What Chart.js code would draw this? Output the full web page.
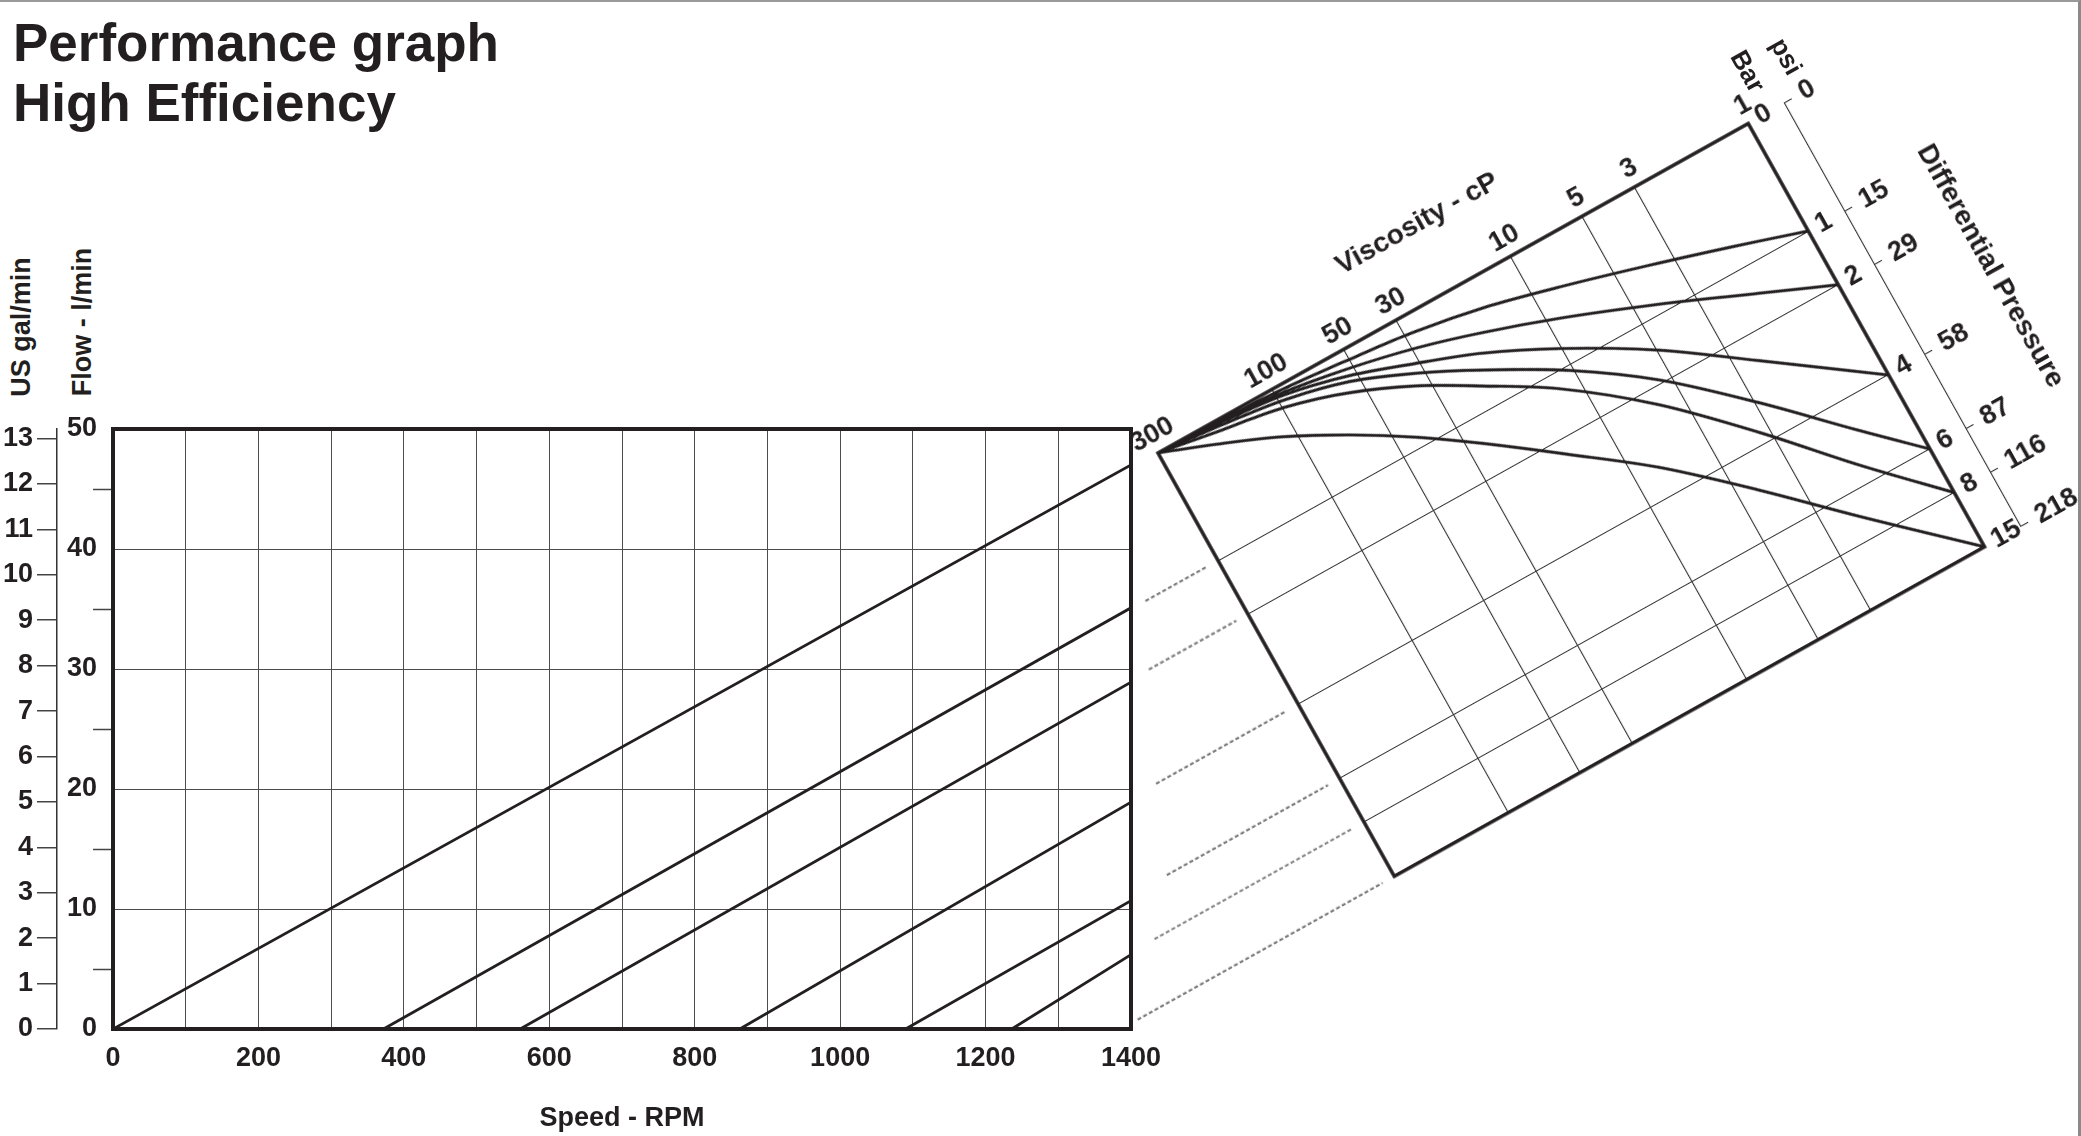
<!DOCTYPE html>
<html>
<head>
<meta charset="utf-8">
<title>Performance graph - High Efficiency</title>
<script src="https://cdn.jsdelivr.net/npm/chart.js@4.4.1/dist/chart.umd.min.js"></script>
<style>
  body { margin: 0; background: #fff; }
  #page { position: relative; width: 2081px; height: 1136px; overflow: hidden;
          font-family: 'Liberation Sans', Arial, sans-serif; color: #231f20; }
  #edge { position: absolute; left: 0; top: 0; width: 2081px; height: 1136px; box-sizing: border-box;
          border-top: 2px solid #9a9a9a; border-right: 3px solid #8a8a8a; pointer-events: none; }
  h1 { position: absolute; left: 13px; top: 13px; margin: 0; font-size: 53px; line-height: 60px; font-weight: bold; }
  .vlabel { position: absolute; font-size: 27px; font-weight: bold; white-space: nowrap;
            transform: translate(-50%, -50%) rotate(-90deg); }
  #mainChart { position: absolute; left: 0; top: 0; }
  #nomo { position: absolute; width: 1160px; height: 602px; }
  #nomo canvas { position: absolute; left: 0; top: 0; }
  .nlabel { position: absolute; font-size: 26px; font-weight: bold; white-space: nowrap;
            transform: translate(-50%, -50%) rotate(90deg); }
</style>
</head>
<body>
<div id="page">
  <h1>Performance graph<br>High Efficiency</h1>
  <div class="vlabel" style="left:21px;top:327px">US gal/min</div>
  <div class="vlabel" style="left:82px;top:322px">Flow - l/min</div>
  <canvas id="mainChart" width="2081" height="1136"></canvas>
  <div id="nomo">
    <canvas id="nomoChart" width="1160" height="602"></canvas>
    <div class="nlabel" style="left:1011px;top:45px">Bar</div>
    <div class="nlabel" style="left:1052px;top:51px">psi</div>
  </div>
  <div id="edge"></div>
</div>
<script>
const INK = '#231f20';
Chart.defaults.font.family = "'Liberation Sans', Arial, sans-serif";
Chart.defaults.font.weight = 'bold';
Chart.defaults.color = INK;

// --- Flow vs speed (left graph) ---
const MAX_RPM = 1400;
const LPM_PER_GAL = 3.785;
const lineStartRpm = [0, 372, 560, 862, 1090, 1236];   // speed where flow starts
const lineEndFlow = [47.0, 35.1, 28.9, 18.9, 10.7, 6.2]; // l/min at 1400 rpm
const galTicks = [0, 1, 2, 3, 4, 5, 6, 7, 8, 9, 10, 11, 12, 13];

// --- Viscosity / pressure nomogram (right graph) ---
const viscTicks = [300, 100, 50, 30, 10, 5, 3, 1];
const pressurePos = [0, 0.254, 0.381, 0.594, 0.769, 0.872, 1];
const barLabels = ['0', '1', '2', '4', '6', '8', '15'];
const psiLabels = ['0', '15', '29', '58', '87', '116', '218'];

// curves: viscosity (cP) and position on the pressure axis
const curveVisc1 = [300, 169.6, 95.9, 49.5, 27.2, 14.9, 7.84, 3.41, 1.49, 1];
const curvePos1 = [0, 0.004, 0.010, 0.024, 0.040, 0.066, 0.105, 0.162, 0.223, 0.254];
const curveVisc2 = [300, 169.6, 95.9, 51.5, 28.9, 16.6, 8.94, 4.05, 1.85, 1];
const curvePos2 = [0, 0.006, 0.016, 0.040, 0.071, 0.110, 0.161, 0.236, 0.317, 0.381];
const curveVisc4 = [300, 169.6, 93.2, 53.3, 31.0, 18.1, 10.1, 4.88, 2.45, 1];
const curvePos4 = [0, 0.008, 0.022, 0.053, 0.098, 0.147, 0.216, 0.319, 0.438, 0.594];
const curveVisc6 = [300, 177.5, 94.2, 54.5, 32.3, 19.5, 10.3, 5.54, 2.92, 1.57, 1];
const curvePos6 = [0, 0.012, 0.032, 0.064, 0.116, 0.177, 0.265, 0.372, 0.513, 0.663, 0.769];
const curveVisc8 = [300, 178.5, 98.1, 57.1, 33.9, 20.8, 11.95, 6.13, 3.29, 1.81, 1];
const curvePos8 = [0, 0.021, 0.045, 0.084, 0.139, 0.206, 0.288, 0.417, 0.567, 0.725, 0.872];
const curveVisc15 = [300, 188, 112, 68, 42, 26.4, 14.6, 7.96, 4.19, 2.24, 1];
const curvePos15 = [0, 0.043, 0.096, 0.160, 0.231, 0.309, 0.416, 0.529, 0.670, 0.817, 1];

// dashed leaders, left of the nomogram (one per pressure line)
const dashFarVisc = [605, 782, 1186, 1595, 2273, 3585];
const DASH_NEAR_VISC = 336;

// placement of the rotated nomogram on the page
const NOMO_ORIGIN = { x: 1158.3, y: 453.3 };  // 300 cP / 0 bar corner
const NOMO_ANGLE = -29.17;
const NOMO_PAD = { left: 310, top: 91 };

// box round the plot area
const framePlugin = {
    id: 'frame',
    afterDatasetsDraw(chart, args, opts) {
        const { ctx, chartArea: a } = chart;
        ctx.save();
        ctx.lineWidth = opts.width || 3.5;
        ctx.strokeStyle = INK;
        ctx.strokeRect(a.left, a.top, a.right - a.left, a.bottom - a.top);
        ctx.restore();
    }
};

// ---------- main chart ----------
const flowSets = lineStartRpm.map((start, i) => ({
    data: [{ x: start, y: 0 }, { x: MAX_RPM, y: lineEndFlow[i] }],
    borderColor: INK,
    borderWidth: 2.8,
    pointRadius: 0,
    showLine: true
}));

new Chart(document.getElementById('mainChart'), {
    type: 'scatter',
    data: { datasets: flowSets },
    options: {
        responsive: false,
        animation: false,
        devicePixelRatio: 1,
        layout: { padding: { left: 0, top: 429, right: 950, bottom: 0 } },
        plugins: {
            legend: { display: false },
            tooltip: { enabled: false },
            frame: { width: 4 }
        },
        scales: {
            x: {
                type: 'linear', min: 0, max: MAX_RPM,
                ticks: {
                    stepSize: 100, autoSkip: false, maxRotation: 0, padding: 13,
                    font: { size: 27 },
                    callback: v => (v % 200 === 0 ? v : '')
                },
                grid: { color: '#4d4d4d', lineWidth: 1, drawTicks: false },
                border: { display: false },
                title: { display: true, text: 'Speed - RPM', font: { size: 27, weight: 'bold' }, padding: { top: 0, bottom: 1 } },
                afterFit: s => { s.height = 107; }
            },
            y: {
                type: 'linear', position: 'left', min: 0, max: 50, weight: 0,
                ticks: {
                    stepSize: 5, autoSkip: false, padding: -4,
                    font: { size: 27 },
                    callback: v => (v % 10 === 0 ? v : '')
                },
                grid: {
                    lineWidth: 1, tickLength: 20, tickWidth: 1.5,
                    color: c => (c.tick && c.tick.value % 10 === 0 ? '#4d4d4d' : 'rgba(0,0,0,0)'),
                    tickColor: c => (c.tick && c.tick.value % 10 === 0 ? 'rgba(0,0,0,0)' : '#444')
                },
                border: { display: false },
                afterFit: s => { s.width = 56; }
            },
            yGal: {
                type: 'linear', position: 'left', min: 0, max: 50 / LPM_PER_GAL, weight: 1,
                afterBuildTicks: s => { s.ticks = galTicks.map(v => ({ value: v })); },
                ticks: { autoSkip: false, padding: 4, font: { size: 27 } },
                grid: { drawOnChartArea: false, tickLength: 20, color: '#444', lineWidth: 1.5 },
                border: { display: true, color: '#333', width: 1.5 },
                afterFit: s => { s.width = 57; }
            }
        }
    },
    plugins: [framePlugin]
});

// ---------- nomogram (drawn in its own frame, then rotated) ----------
const nomoBox = document.getElementById('nomo');
nomoBox.style.left = (NOMO_ORIGIN.x - NOMO_PAD.left) + 'px';
nomoBox.style.top = (NOMO_ORIGIN.y - NOMO_PAD.top) + 'px';
nomoBox.style.transformOrigin = NOMO_PAD.left + 'px ' + NOMO_PAD.top + 'px';
nomoBox.style.transform = 'rotate(' + NOMO_ANGLE + 'deg)';

const curves = [
    [curveVisc1, curvePos1],
    [curveVisc2, curvePos2],
    [curveVisc4, curvePos4],
    [curveVisc6, curvePos6],
    [curveVisc8, curvePos8],
    [curveVisc15, curvePos15]
];

const nomoSets = curves.map(([visc, pos]) => ({
    data: visc.map((v, i) => ({ x: v, y: pos[i] })),
    borderColor: INK,
    borderWidth: 3,
    cubicInterpolationMode: 'monotone',
    pointRadius: 0,
    showLine: true,
    xAxisID: 'x',
    yAxisID: 'yBar'
}));

dashFarVisc.forEach((far, i) => {
    nomoSets.push({
        data: [{ x: far, y: pressurePos[i + 1] }, { x: DASH_NEAR_VISC, y: pressurePos[i + 1] }],
        borderColor: '#7f7f7f',
        borderWidth: 2.2,
        borderDash: [4, 2.5],
        pointRadius: 0,
        showLine: true,
        clip: false,
        xAxisID: 'x',
        yAxisID: 'yBar'
    });
});

new Chart(document.getElementById('nomoChart'), {
    type: 'scatter',
    data: { datasets: nomoSets },
    options: {
        responsive: false,
        animation: false,
        devicePixelRatio: 1,
        layout: { padding: { left: NOMO_PAD.left, top: 0, right: 15, bottom: 20 } },
        plugins: {
            legend: { display: false },
            tooltip: { enabled: false },
            frame: { width: 3.5 }
        },
        scales: {
            x: {
                type: 'logarithmic', position: 'top', reverse: true, min: 1, max: 300,
                afterBuildTicks: s => { s.ticks = viscTicks.map(v => ({ value: v })); },
                ticks: {
                    autoSkip: false, maxRotation: 0, minRotation: 0, padding: 2, labelOffset: 4,
                    font: { size: 27 },
                    callback: v => String(v)
                },
                grid: { color: '#333', lineWidth: 1.1, drawTicks: false },
                border: { display: false },
                title: { display: true, text: 'Viscosity - cP', font: { size: 28, weight: 'bold' }, padding: { top: 0, bottom: 0 } },
                afterFit: s => { s.height = NOMO_PAD.top; }
            },
            yBar: {
                type: 'linear', position: 'right', reverse: true, min: 0, max: 1, weight: 0,
                afterBuildTicks: s => { s.ticks = pressurePos.map(v => ({ value: v })); },
                ticks: {
                    autoSkip: false, padding: 10, font: { size: 27 },
                    callback: (v, i) => barLabels[i]
                },
                grid: { color: '#333', lineWidth: 1.1, drawTicks: false },
                border: { display: false },
                afterFit: s => { s.width = 42; }
            },
            yPsi: {
                type: 'linear', position: 'right', reverse: true, min: 0, max: 1, weight: 1,
                afterBuildTicks: s => { s.ticks = pressurePos.map(v => ({ value: v })); },
                ticks: {
                    autoSkip: false, padding: 10, font: { size: 27 },
                    callback: (v, i) => psiLabels[i]
                },
                grid: { drawOnChartArea: false, drawTicks: true, tickLength: 8, color: '#333', lineWidth: 1.1 },
                border: { display: true, color: '#333', width: 1.1 },
                title: { display: true, text: 'Differential Pressure', font: { size: 28, weight: 'bold' }, padding: { top: 0, bottom: 0 } },
                afterFit: s => { s.width = 117; }
            }
        }
    },
    plugins: [framePlugin]
});
</script>
</body>
</html>
